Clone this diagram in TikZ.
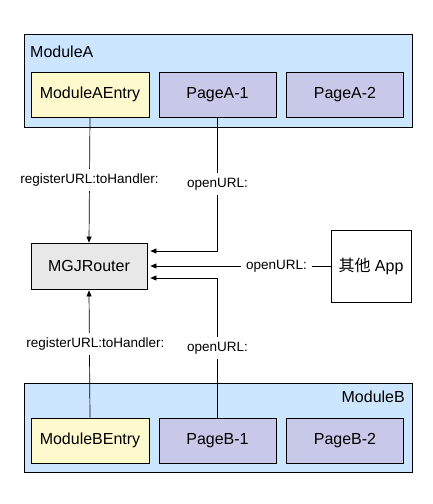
\documentclass[tikz,border=0pt]{standalone}
\usepackage{fontspec}
\setmainfont{Liberation Sans}
\newfontfamily\cjk{Noto Sans CJK SC}
\usetikzlibrary{arrows.meta}
\definecolor{modblue}{RGB}{204,230,255}
\definecolor{entryyellow}{RGB}{255,250,206}
\definecolor{pagepurple}{RGB}{200,200,232}
\definecolor{routergray}{RGB}{232,232,232}
\tikzset{
  modbox/.style={draw=black, line width=0.8pt, fill=modblue, inner sep=0pt},
  entrybox/.style={draw=black, line width=0.8pt, fill=entryyellow, minimum width=118pt, minimum height=45pt, inner sep=0pt, font=\fontsize{16}{18}\selectfont},
  pagebox/.style={draw=black, line width=0.8pt, fill=pagepurple, minimum width=117pt, minimum height=45pt, inner sep=0pt, font=\fontsize{16}{18}\selectfont},
  modlabel/.style={inner sep=0pt, font=\fontsize{16}{18}\selectfont},
  conn/.style={draw=black, line width=0.7pt},
  arr/.style={conn, -{Triangle[length=6pt,width=5pt]}},
  lbl/.style={fill=white, inner sep=5pt, font=\fontsize{13.5}{15}\selectfont},
}
\begin{document}
\begin{tikzpicture}[x=1pt,y=-1pt]
\useasboundingbox (0,0) rectangle (432,504);
% Module A
\node[modbox, minimum width=388pt, minimum height=93pt] (modA) at (218,80.5) {};
\node[modlabel, anchor=west] (modAlbl) at (30,52) {ModuleA};
\node[entrybox] (entryA) at (90,94.5) {ModuleAEntry};
\node[pagebox] (pageA1) at (217.5,94.5) {PageA-1};
\node[pagebox] (pageA2) at (345,94.5) {PageA-2};
% Module B
\node[modbox, minimum width=388pt, minimum height=89pt] (modB) at (218,427.5) {};
\node[modlabel, anchor=east] (modBlbl) at (405,397) {ModuleB};
\node[entrybox] (entryB) at (90,440.5) {ModuleBEntry};
\node[pagebox] (pageB1) at (217.5,440.5) {PageB-1};
\node[pagebox] (pageB2) at (345,440.5) {PageB-2};
% Router and other app
\node[draw=black, line width=0.8pt, fill=routergray, minimum width=116pt, minimum height=46pt, inner sep=0pt, font=\fontsize{16}{18}\selectfont] (router) at (89,266) {MGJRouter};
\node[draw=black, line width=0.8pt, fill=white, minimum width=80pt, minimum height=72pt, inner sep=0pt, font=\fontsize{16}{18}\selectfont] (app) at (371,266) {{\cjk 其他} App};
% connectors
\draw[arr] (entryA.south) -- node[lbl, pos=0.5] (lblA1) {registerURL:toHandler:} (router.north);
\draw[arr] (pageA1.south) |- node[lbl, pos=0.25] (lblA2) {openURL:} ([yshift=15pt,xshift=3pt]router.east);
\draw[arr] (app.west) -- node[lbl, pos=0.30] (lblApp) {openURL:} ([xshift=3pt]router.east);
\draw[arr] (pageB1.north) |- node[lbl, pos=0.25] (lblB2) {openURL:} ([yshift=-12pt,xshift=3pt]router.east);
\draw[arr] (entryB.north) -- node[lbl, pos=0.58, xshift=6pt] (lblB1) {registerURL:toHandler:} ([yshift=-1pt]router.south);
\end{tikzpicture}
\end{document}
